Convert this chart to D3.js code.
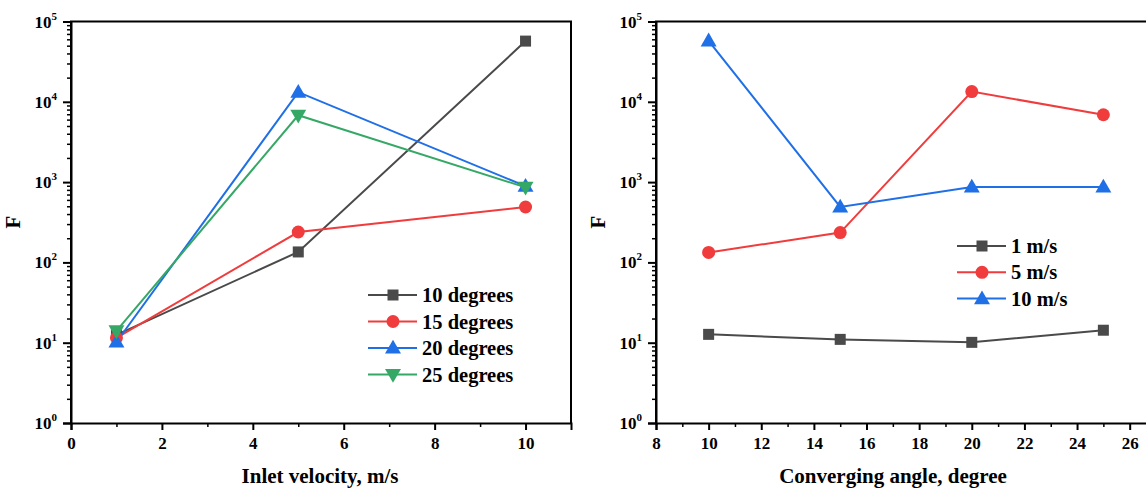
<!DOCTYPE html>
<html>
<head>
<meta charset="utf-8">
<script src="https://cdn.jsdelivr.net/npm/d3@7"></script>
<style>
  body { margin: 0; background: #fff; }
  svg, svg text { font-family: "Liberation Serif", "Times New Roman", serif; font-weight: bold; }
  .xaxis text { font-size: 17px !important; font-family: "Liberation Serif", serif !important; font-weight: bold !important; }
</style>
</head>
<body>
<div id="chart"></div>
<script>
var
  width = 1146,
  height = 488;

// left panel: F vs inlet velocity, one series per converging angle
var velocity = [1, 5, 10];
var angleNames = ["10 degrees", "15 degrees", "20 degrees", "25 degrees"];
var deg10 = [12.5, 135, 57000];
var deg15 = [11.5, 239, 490];
var deg20 = [10.2, 13200, 890];
var deg25 = [14, 6800, 860];

// right panel: F vs converging angle, one series per inlet velocity
var angle = [10, 15, 20, 25];
var speedNames = ["1 m/s", "5 m/s", "10 m/s"];
var ms1 = [12.7, 11, 10.1, 14.3];
var ms5 = [133, 235, 13400, 6900];
var ms10 = [57500, 490, 870, 870];

var yTicks = [1, 10, 100, 1000, 10000, 100000];
var yExp = ["0", "1", "2", "3", "4", "5"];

var colors = { gray: "#4a4a4a", red: "#f03c3c", blue: "#1f6fe6", green: "#36a866" };

var svg = d3.select("#chart").append("svg")
  .attr("width", width)
  .attr("height", height);

function drawMarker(g, shape, x, y, color) {
  if (shape == "square") {
    g.append("rect").attr("x", x - 5.5).attr("y", y - 5.5).attr("width", 11).attr("height", 11)
      .attr("fill", color);
  } else if (shape == "circle") {
    g.append("circle").attr("cx", x).attr("cy", y).attr("r", 6.5).attr("fill", color);
  } else if (shape == "up") {
    g.append("path").attr("d", d3.symbol().type(d3.symbolTriangle).size(110)())
      .attr("transform", "translate(" + x + "," + (y + 1) + ")").attr("fill", color);
  } else {
    g.append("path").attr("d", d3.symbol().type(d3.symbolTriangle).size(110)())
      .attr("transform", "translate(" + x + "," + (y - 1) + ") rotate(180)").attr("fill", color);
  }
}

function panel(opt) {
  var x = d3.scaleLinear().domain(opt.xDomain).range([opt.left, opt.right]);
  var y = d3.scaleLog().domain([1, 100000]).range([423, 21.5]);
  var g = svg.append("g");

  // frame
  g.append("path")
    .attr("d", "M" + opt.left + "," + 423 + "V21.5H" + opt.right + "V423")
    .attr("fill", "none").attr("stroke", "#000").attr("stroke-width", 2);

  // y axis with log minor ticks
  var yAxis = d3.axisLeft(y).tickValues(yTicks).tickSize(8).tickFormat("");
  g.append("g").attr("transform", "translate(" + opt.left + ",0)").call(yAxis)
    .call(function(a) { a.select(".domain").attr("stroke-width", 2); a.selectAll(".tick line").attr("stroke-width", 2); });
  var minors = [];
  for (var d = 1; d < 100000; d *= 10)
    for (var k = 2; k <= 9; k++) minors.push(d * k);
  g.append("g").attr("transform", "translate(" + opt.left + ",0)")
    .call(d3.axisLeft(y).tickValues(minors).tickSize(4).tickFormat(""))
    .call(function(a) { a.select(".domain").remove(); a.selectAll(".tick line").attr("stroke-width", 1.5); });

  var lab = g.selectAll(".ylab").data(yTicks).enter().append("text")
    .attr("x", opt.left - 14).attr("y", function(d) { return y(d) + 6; })
    .attr("text-anchor", "end").attr("font-size", 17);
  lab.append("tspan").text("10");
  lab.append("tspan").attr("dy", -8).attr("font-size", 11).text(function(d, i) { return yExp[i]; });

  // x axis
  g.append("g").attr("class", "xaxis").attr("transform", "translate(0,423)")
    .call(d3.axisBottom(x).tickValues(opt.xMajor).tickSize(7).tickPadding(7));
  g.select(".xaxis").attr("font-family", null).attr("font-size", null);
  g.select(".xaxis .domain").attr("stroke-width", 2);
  g.selectAll(".xaxis .tick line").attr("stroke-width", 2);
  g.selectAll(".xaxis .tick text").attr("font-size", 17);

  g.append("g").attr("transform", "translate(0,423)")
    .call(d3.axisBottom(x).tickValues(opt.xMinor).tickSize(4).tickFormat(""))
    .call(function(a) { a.select(".domain").remove(); a.selectAll(".tick line").attr("stroke-width", 1.5); });

  g.append("text").attr("x", opt.titleX).attr("y", 483).attr("text-anchor", "middle")
    .attr("font-size", 21).text(opt.title);
  g.append("text").attr("transform", "translate(" + (opt.left - 51) + ",222) rotate(-90)")
    .attr("text-anchor", "middle").attr("font-size", 21).text("F");

  var line = d3.line().x(function(d) { return x(d[0]); }).y(function(d) { return y(d[1]); });
  opt.series.forEach(function(s) {
    var pts = opt.xs.map(function(v, i) { return [v, s.values[i]]; });
    g.append("path").datum(pts).attr("d", line)
      .attr("fill", "none").attr("stroke", s.color).attr("stroke-width", 2);
  });
  opt.series.forEach(function(s) {
    opt.xs.forEach(function(v, i) { drawMarker(g, s.shape, x(v), y(s.values[i]), s.color); });
  });

  // legend
  opt.series.forEach(function(s, i) {
    var ly = opt.legY + i * opt.legStep;
    g.append("line").attr("x1", opt.legX).attr("x2", opt.legX + 49).attr("y1", ly).attr("y2", ly)
      .attr("stroke", s.color).attr("stroke-width", 2);
    drawMarker(g, s.shape, opt.legX + 25, ly, s.color);
    g.append("text").attr("x", opt.legX + 54).attr("y", ly + 7).attr("font-size", 20.5).text(s.name);
  });
}

panel({
  left: 71, right: 571, xDomain: [0, 11],
  xMajor: [0, 2, 4, 6, 8, 10], xMinor: [1, 3, 5, 7, 9],
  xs: velocity,
  title: "Inlet velocity, m/s", titleX: 320,
  legX: 368, legY: 295, legStep: 26.5,
  series: [
    { name: angleNames[0], values: deg10, color: colors.gray, shape: "square" },
    { name: angleNames[1], values: deg15, color: colors.red, shape: "circle" },
    { name: angleNames[2], values: deg20, color: colors.blue, shape: "up" },
    { name: angleNames[3], values: deg25, color: colors.green, shape: "down" }
  ]
});

panel({
  left: 656, right: 1156, xDomain: [8, 27],
  xMajor: [8, 10, 12, 14, 16, 18, 20, 22, 24, 26], xMinor: [9, 11, 13, 15, 17, 19, 21, 23, 25],
  xs: angle,
  title: "Converging angle, degree", titleX: 893,
  legX: 957, legY: 246, legStep: 26.3,
  series: [
    { name: speedNames[0], values: ms1, color: colors.gray, shape: "square" },
    { name: speedNames[1], values: ms5, color: colors.red, shape: "circle" },
    { name: speedNames[2], values: ms10, color: colors.blue, shape: "up" }
  ]
});
</script>
</body>
</html>
